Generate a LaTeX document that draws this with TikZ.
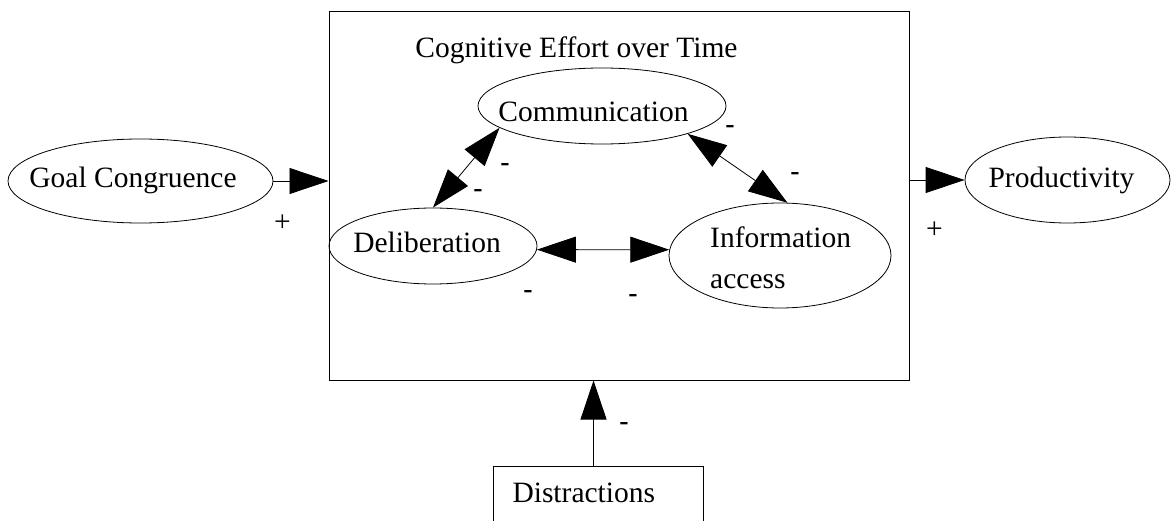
\documentclass[tikz,border=0pt]{standalone}
\usepackage{fontspec}
\setmainfont{Liberation Serif}
\newfontfamily\signfont{Liberation Sans}
\usetikzlibrary{arrows.meta,shapes.geometric,calc}

\begin{document}
\begin{tikzpicture}[x=1pt,y=-1pt,
  every node/.style={font=\fontsize{29.5pt}{35pt}\selectfont},
  oval/.style={draw, ellipse, inner sep=0pt, line width=0.8pt},
  frame/.style={draw, rectangle, inner sep=0pt, line width=1pt},
  word/.style={anchor=base, inner sep=0pt},
  sign/.style={inner sep=0pt, font=\signfont\fontsize{29.5pt}{35pt}\selectfont},
  plus/.style={inner sep=0pt},
  link/.style={line width=0.8pt, -{Triangle[length=39pt,width=26pt]}},
  twoway/.style={line width=0.8pt, {Triangle[length=39pt,width=26pt]}-{Triangle[length=39pt,width=26pt]}},
]
\useasboundingbox (0,0) rectangle (1172,521);

% outer frame for the cognitive effort block
\node[frame, minimum width=580pt, minimum height=368pt] (box) at (619,196) {};
\node[word] (title) at (576.5,58) {Cognitive Effort over Time};

% inner factors
\node[oval, minimum width=248pt, minimum height=76pt] (comm) at (602,106) {};
\node[word] (commtext) at (593.5,122) {Communication};

\node[oval, minimum width=208pt, minimum height=76pt] (delib) at (433,246) {};
\node[word] (delibtext) at (427,253) {Deliberation};

\node[oval, minimum width=222pt, minimum height=105pt] (info) at (780,255.5) {};
\node[word, anchor=base west] (infotexta) at (710,248) {Information};
\node[word, anchor=base west] (infotextb) at (710,288) {access};

% outer factors
\node[oval, minimum width=265pt, minimum height=84pt] (goal) at (140.5,181) {};
\node[word] (goaltext) at (133,188) {Goal Congruence};

\node[oval, minimum width=205pt, minimum height=86pt] (prod) at (1067.5,180) {};
\node[word] (prodtext) at (1061.5,188) {Productivity};

\node[frame, anchor=north west, inner xsep=19pt, inner ysep=0pt,
      text width=172pt, align=left, text height=36pt, text depth=44pt]
      (dist) at (493,466) {Distractions};

% connectors
\draw[link] (goal.east) -- (goal.east -| box.west);
\draw[link] (box.east |- prod.west) -- (prod.west);
\draw[link] ([xshift=-5pt]dist.north) -- ([xshift=-5pt]dist.north |- box.south);

\draw[twoway] (comm.192) -- (delib.90);
\draw[twoway] (comm.342) -- (info.82);
\draw[twoway] (delib.-2) -- (info.177);

% signs of the influences
\node[plus] (pgoal) at (282.5,223) {+};
\node[plus] (pprod) at (934.5,230) {+};

\node[sign] (s1) at (505,168) {-};
\node[sign] (s2) at (478,194.5) {-};
\node[sign] (s3) at (730,130) {-};
\node[sign] (s4) at (795,177.5) {-};
\node[sign] (s5) at (528,295) {-};
\node[sign] (s6) at (633,299) {-};
\node[sign] (s7) at (624,427) {-};
\end{tikzpicture}
\end{document}
